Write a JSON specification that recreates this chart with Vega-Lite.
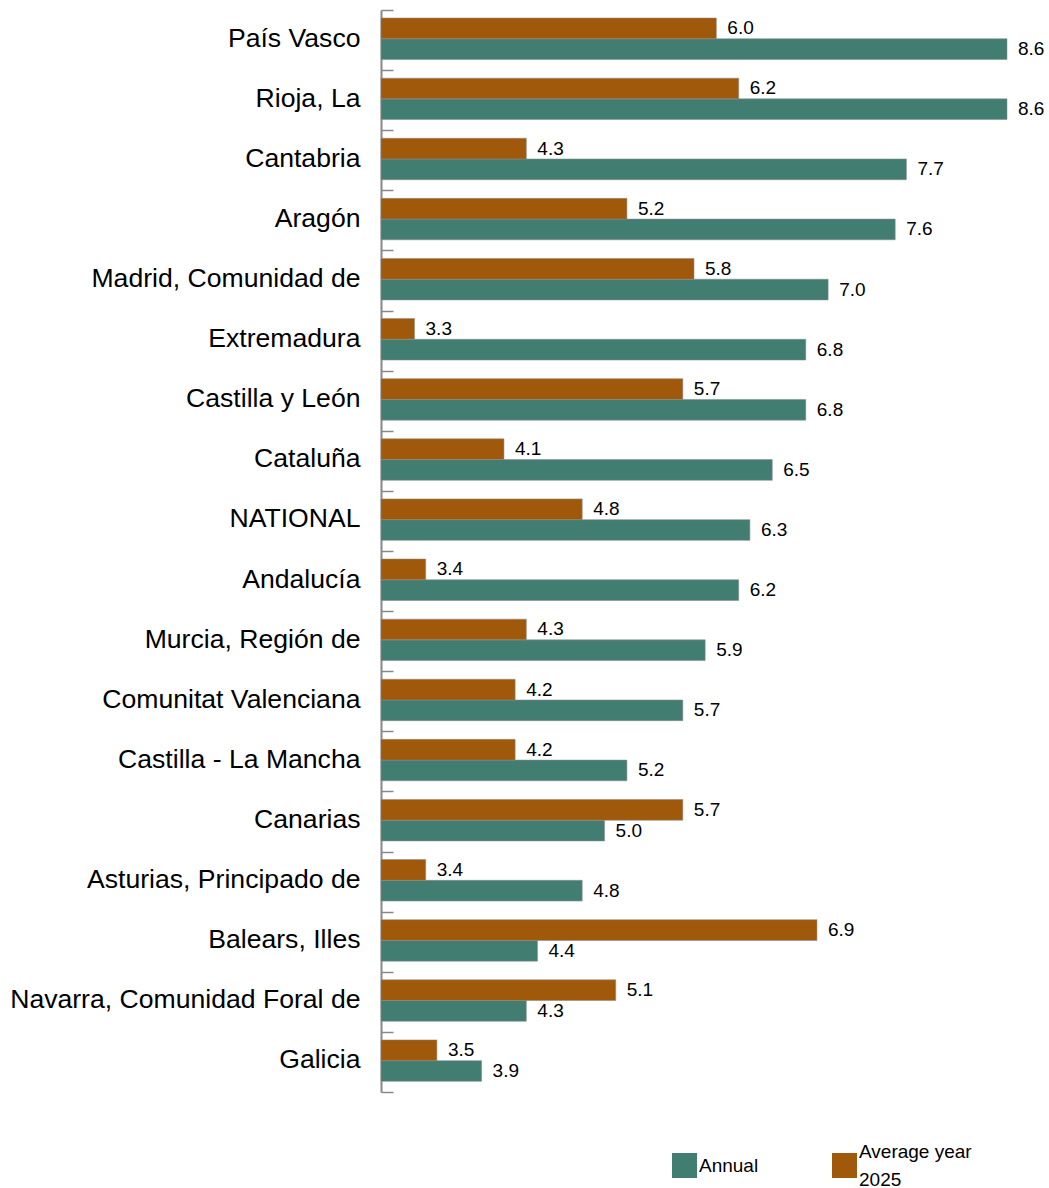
{
  "$schema": "https://vega.github.io/schema/vega-lite/v6.json",
  "width": 626,
  "height": 1082,
  "autosize": {"type": "none"},
  "padding": {"left": 381, "top": 10, "right": 42, "bottom": 96},
  "background": "white",
  "config": {
    "view": {"stroke": null},
    "style": {"guide-label": {"lineHeight": 28}},
    "legend": {
      "title": null,
      "orient": "none",
      "symbolType": "square",
      "symbolSize": 625,
      "symbolStrokeWidth": 0,
      "symbolOpacity": 1,
      "labelOffset": 2,
      "labelFont": "Liberation Sans",
      "labelFontSize": 19,
      "labelColor": "#000000",
      "labelLimit": 0
    }
  },
  "data": {
    "values": [
      {"region": "País Vasco", "series": "Average year 2025", "value": 6.0},
      {"region": "País Vasco", "series": "Annual", "value": 8.6},
      {"region": "Rioja, La", "series": "Average year 2025", "value": 6.2},
      {"region": "Rioja, La", "series": "Annual", "value": 8.6},
      {"region": "Cantabria", "series": "Average year 2025", "value": 4.3},
      {"region": "Cantabria", "series": "Annual", "value": 7.7},
      {"region": "Aragón", "series": "Average year 2025", "value": 5.2},
      {"region": "Aragón", "series": "Annual", "value": 7.6},
      {"region": "Madrid, Comunidad de", "series": "Average year 2025", "value": 5.8},
      {"region": "Madrid, Comunidad de", "series": "Annual", "value": 7.0},
      {"region": "Extremadura", "series": "Average year 2025", "value": 3.3},
      {"region": "Extremadura", "series": "Annual", "value": 6.8},
      {"region": "Castilla y León", "series": "Average year 2025", "value": 5.7},
      {"region": "Castilla y León", "series": "Annual", "value": 6.8},
      {"region": "Cataluña", "series": "Average year 2025", "value": 4.1},
      {"region": "Cataluña", "series": "Annual", "value": 6.5},
      {"region": "NATIONAL", "series": "Average year 2025", "value": 4.8},
      {"region": "NATIONAL", "series": "Annual", "value": 6.3},
      {"region": "Andalucía", "series": "Average year 2025", "value": 3.4},
      {"region": "Andalucía", "series": "Annual", "value": 6.2},
      {"region": "Murcia, Región de", "series": "Average year 2025", "value": 4.3},
      {"region": "Murcia, Región de", "series": "Annual", "value": 5.9},
      {"region": "Comunitat Valenciana", "series": "Average year 2025", "value": 4.2},
      {"region": "Comunitat Valenciana", "series": "Annual", "value": 5.7},
      {"region": "Castilla - La Mancha", "series": "Average year 2025", "value": 4.2},
      {"region": "Castilla - La Mancha", "series": "Annual", "value": 5.2},
      {"region": "Canarias", "series": "Average year 2025", "value": 5.7},
      {"region": "Canarias", "series": "Annual", "value": 5.0},
      {"region": "Asturias, Principado de", "series": "Average year 2025", "value": 3.4},
      {"region": "Asturias, Principado de", "series": "Annual", "value": 4.8},
      {"region": "Balears, Illes", "series": "Average year 2025", "value": 6.9},
      {"region": "Balears, Illes", "series": "Annual", "value": 4.4},
      {"region": "Navarra, Comunidad Foral de", "series": "Average year 2025", "value": 5.1},
      {"region": "Navarra, Comunidad Foral de", "series": "Annual", "value": 4.3},
      {"region": "Galicia", "series": "Average year 2025", "value": 3.5},
      {"region": "Galicia", "series": "Annual", "value": 3.9}
    ]
  },
  "encoding": {
    "y": {
      "field": "region",
      "type": "nominal",
      "sort": null,
      "scale": {"paddingInner": 0, "paddingOuter": 0},
      "axis": {
        "title": null,
        "grid": false,
        "domainColor": "#888888",
        "domainWidth": 2,
        "tickColor": "#888888",
        "tickWidth": 1.5,
        "tickSize": -12,
        "tickBand": "extent",
        "labelFont": "Liberation Sans",
        "labelFontSize": 26.6,
        "labelColor": "#000000",
        "labelPadding": 33,
        "labelOffset": -2,
        "labelLimit": 0
      }
    },
    "yOffset": {
      "field": "series",
      "type": "nominal",
      "scale": {"domain": ["Average year 2025", "Annual"], "paddingInner": 0, "paddingOuter": 0.45, "align": 0.43}
    },
    "x": {
      "field": "value",
      "type": "quantitative",
      "scale": {"domain": [3, 8.6], "zero": false, "nice": false},
      "axis": null
    }
  },
  "layer": [
    {
      "transform": [{"filter": "datum.series === 'Annual'"}],
      "mark": {"type": "bar", "stroke": "#8c8c8c", "strokeWidth": 0.8, "strokeOpacity": 0.7},
      "encoding": {
        "x2": {"datum": 3},
        "color": {
          "field": "series",
          "type": "nominal",
          "scale": {"domain": ["Annual"], "range": ["#427D72"]},
          "legend": {"legendX": 291, "legendY": 1143}
        }
      }
    },
    {
      "transform": [{"filter": "datum.series === 'Average year 2025'"}],
      "mark": {"type": "bar", "stroke": "#8c8c8c", "strokeWidth": 0.8, "strokeOpacity": 0.7},
      "encoding": {
        "x2": {"datum": 3},
        "color": {
          "field": "series",
          "type": "nominal",
          "scale": {"domain": ["Average year 2025"], "range": ["#A0580A"]},
          "legend": {
            "legendX": 451,
            "legendY": 1143,
            "labelBaseline": "line-bottom",
            "labelExpr": "['Average year', '2025']",
            "encode": {"labels": {"update": {"lineHeight": {"value": 28}}}}
          }
        }
      }
    },
    {
      "mark": {"type": "text", "align": "left", "baseline": "middle", "dx": 11, "font": "Liberation Sans", "fontSize": 19, "color": "#000000"},
      "encoding": {
        "text": {"field": "value", "type": "quantitative", "format": ".1f"}
      }
    }
  ],
  "resolve": {"scale": {"color": "independent"}, "legend": {"color": "independent"}}
}
